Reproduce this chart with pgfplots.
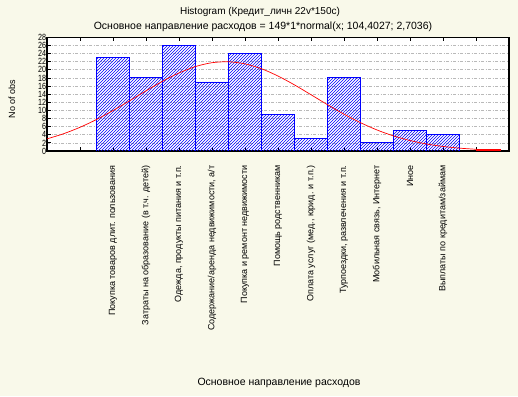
\documentclass[border=0pt]{standalone}
\usepackage{pgfplots}
\pgfplotsset{compat=1.18}
\usepackage{fontspec}
\setmainfont{Liberation Sans}
\usetikzlibrary{patterns}
\definecolor{bgc}{RGB}{249,249,234}
\definecolor{gridc}{RGB}{185,185,185}
\begin{document}
\begin{tikzpicture}[x=1pt,y=1pt]
\fill[bgc] (0,0) rectangle (518,396);
\useasboundingbox (0,0) rectangle (518,396);
\node[font=\fontsize{10}{12}\selectfont] at (260,384) {Histogram (Кредит\_личн 22v*150c)};
\node[font=\fontsize{10.5}{12}\selectfont] at (263,369) {Основное направление расходов = 149*1*normal(x; 104,4027; 2,7036)};
\node[font=\fontsize{9}{10}\selectfont, rotate=90] at (12,297) {No of obs};
\node[font=\fontsize{10.5}{12}\selectfont] at (279,13) {Основное направление расходов};
\begin{axis}[
  at={(47pt,245pt)}, anchor=south west,
  scale only axis, width=462pt, height=113.7pt,
  xmin=99, xmax=113, ymin=0, ymax=28,
  axis background/.style={fill=white},
  axis line style={line width=1.2pt},
  xtick={100,...,112},
  xticklabels={,Покупка товаров длит. пользования,Затраты на образование (в т.ч. детей),{Одежда, продукты питания и т.п.},{Содержание/аренда недвижимости, а/т},Покупка и ремонт недвижимости,Помощь родственникам,{Оплата услуг (мед., юрид. и т.п.)},{Турпоездки, развлечения и т.п.},{Мобильная связь, Интернет},Иное,Выплаты по кредитам/займам,},
  xticklabel style={rotate=90, anchor=east, font=\fontsize{9}{10}\selectfont},
  xticklabel shift=11pt,
  ytick={0,2,...,28},
  yticklabel style={font=\fontsize{9}{9}\selectfont, inner xsep=1pt, xscale=0.8},
  /pgf/number format/assume math mode=true,
  tick align=inside, major tick length=4pt,
  xtick pos=both, ytick pos=left,
  tick style={black, line width=0.8pt},
  ymajorgrids,
  major grid style={gridc, line width=0.7pt, dash pattern=on 3pt off 1.5pt on 1pt off 1.5pt},
]
\addplot[ybar interval, draw=blue, line width=0.9pt, pattern=north east lines, pattern color=blue]
coordinates {(100.5,23) (101.5,18) (102.5,26) (103.5,17) (104.5,24) (105.5,9) (106.5,3) (107.5,18) (108.5,2) (109.5,5) (110.5,4) (111.5,4)};
\addplot[red, line width=0.7pt, smooth] coordinates {
(99,2.986) (99.5,4.247) (100,5.839) (100.5,7.757) (101,9.958) (101.5,12.355) (102,14.813) (102.5,17.163) (103,19.218) (103.5,20.794) (104,21.744) (104.5,21.972) (105,21.456) (105.5,20.248) (106,18.465) (106.5,16.274) (107,13.860) (107.5,11.406) (108,9.072) (108.5,6.973) (109,5.179) (109.5,3.718) (110,2.579) (110.5,1.729) (111,1.120) (111.5,0.701) (112,0.424)};
\addplot[red, line width=1.6pt] coordinates {(112,0.2) (112.75,0.2)};
\end{axis}
\end{tikzpicture}
\end{document}
